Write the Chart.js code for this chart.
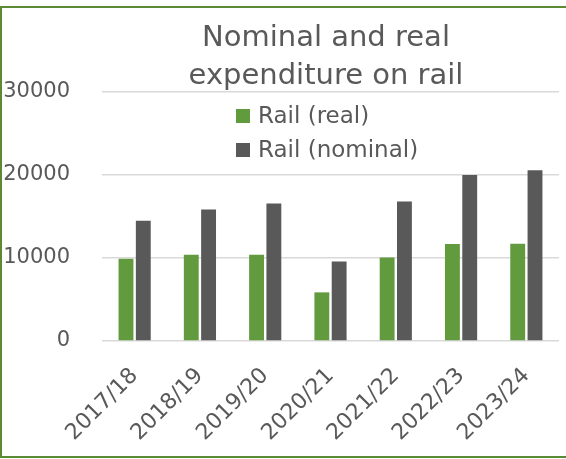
<!DOCTYPE html>
<html>
<head>
<meta charset="utf-8">
<script src="https://cdn.jsdelivr.net/npm/chart.js@4"></script>
<style>
    html, body { margin: 0; padding: 0; background: #fff; overflow: hidden; }
    canvas { display: block; }
</style>
</head>
<body>
<canvas id="rail-chart" width="566" height="459"></canvas>
<script>
// Chart data
const years = ['2017/18', '2018/19', '2019/20', '2020/21', '2021/22', '2022/23', '2023/24'];
const railReal = [9900, 10380, 10380, 5860, 10060, 11680, 11720];
const railNominal = [14500, 15840, 16570, 9580, 16810, 20000, 20560];
const titleLines = ['Nominal and real', 'expenditure on rail'];
const yTicks = [0, 10000, 20000, 30000];

const FONT = '"DejaVu Sans", sans-serif';
const TEXT = '#595959';

// Title, legend and green frame drawn on the canvas, like the original
const overlay = {
    id: 'overlay',
    beforeDraw(chart) {
        const ctx = chart.ctx;
        ctx.save();
        ctx.fillStyle = '#fff';
        ctx.fillRect(0, 0, chart.width, chart.height);
        ctx.strokeStyle = '#5b8a35';
        ctx.lineWidth = 2;
        ctx.beginPath();
        ctx.moveTo(chart.width + 5, 7);
        ctx.lineTo(1, 7);
        ctx.lineTo(1, 457);
        ctx.lineTo(chart.width + 5, 457);
        ctx.stroke();
        ctx.restore();
    },
    afterDraw(chart) {
        const ctx = chart.ctx;
        ctx.save();
        ctx.fillStyle = TEXT;
        ctx.textAlign = 'center';
        ctx.textBaseline = 'alphabetic';
        ctx.font = '29px ' + FONT;
        ctx.fillText(titleLines[0], 326, 46);
        ctx.fillText(titleLines[1], 326, 84);

        ctx.font = '23px ' + FONT;
        ctx.textAlign = 'left';
        ctx.textBaseline = 'middle';
        chart.data.datasets.forEach((ds, i) => {
            const y = 116 + i * 34;
            ctx.fillStyle = ds.backgroundColor;
            ctx.fillRect(236, y - 7, 14, 14);
            ctx.fillStyle = TEXT;
            ctx.fillText(ds.label, 258, y + 1);
        });
        ctx.restore();
    }
};

new Chart(document.getElementById('rail-chart'), {
    type: 'bar',
    data: {
        labels: years,
        datasets: [
            {
                label: 'Rail (real)',
                data: railReal,
                backgroundColor: '#629a3e',
                categoryPercentage: 0.53,
                barPercentage: 0.86
            },
            {
                label: 'Rail (nominal)',
                data: railNominal,
                backgroundColor: '#595959',
                categoryPercentage: 0.53,
                barPercentage: 0.86
            }
        ]
    },
    options: {
        responsive: false,
        animation: false,
        layout: {
            padding: { top: 92, right: 7, bottom: 0, left: 0 }
        },
        plugins: {
            legend: { display: false },
            title: { display: false },
            tooltip: { enabled: false }
        },
        scales: {
            x: {
                grid: { display: false },
                border: { display: false },
                afterFit: (scale) => { scale.height = 118; },
                ticks: {
                    color: TEXT,
                    font: { family: FONT, size: 22 },
                    minRotation: 45,
                    maxRotation: 45,
                    padding: 14
                }
            },
            y: {
                min: 0,
                max: 30000,
                afterFit: (scale) => { scale.width = 102; },
                afterBuildTicks: (scale) => {
                    scale.ticks = yTicks.map(v => ({ value: v }));
                },
                grid: {
                    color: '#d9d9d9',
                    lineWidth: 1.5,
                    drawTicks: false
                },
                border: { display: false },
                ticks: {
                    color: TEXT,
                    font: { family: FONT, size: 21 },
                    padding: 32,
                    callback: (v) => String(v)
                }
            }
        }
    },
    plugins: [overlay]
});
</script>
</body>
</html>
